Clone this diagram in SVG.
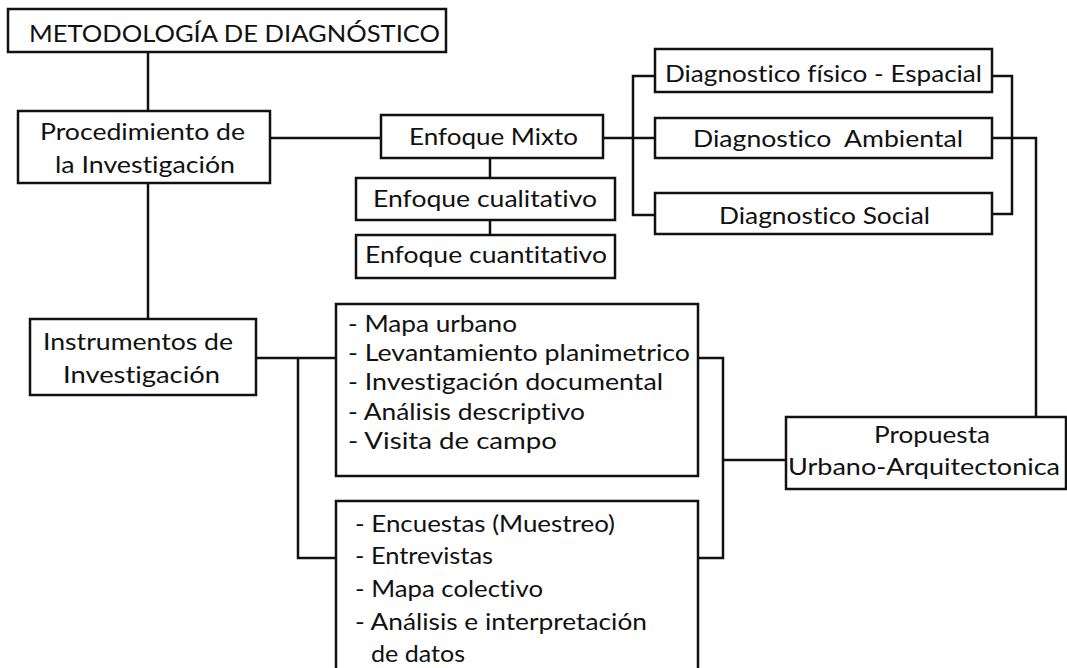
<svg xmlns="http://www.w3.org/2000/svg" width="1067" height="668" viewBox="0 0 1067 668">
<style>
.box{fill:#fff;stroke:#111;stroke-width:2.5}
.c{fill:none;stroke:#111;stroke-width:2.5}
text{font-family:Lato,"Open Sans",sans-serif;font-size:24px;fill:#111;white-space:pre;font-variant-ligatures:none;font-feature-settings:"liga" 0,"dlig" 0}
</style>
<rect width="1067" height="668" fill="#fff"/>
<g id="connectors">
<path class="c" d="M148,52V111"/>
<path class="c" d="M270,138H381"/>
<path class="c" d="M148,183V319"/>
<path class="c" d="M490,158V178"/>
<path class="c" d="M490,220V235"/>
<path class="c" d="M603,138H655"/>
<path class="c" d="M655,76H633V215H655"/>
<path class="c" d="M992,76H1012V214H992"/>
<path class="c" d="M992,138H1036V417"/>
<path class="c" d="M256,358H336"/>
<path class="c" d="M298,358V558H336"/>
<path class="c" d="M698,358H723V558H698"/>
<path class="c" d="M723,460H786"/>
</g>
<g id="title">
<rect class="box" x="8" y="9" width="438" height="43"/>
<text x="29" y="42" textLength="411" lengthAdjust="spacingAndGlyphs">METODOLOGÍA DE DIAGNÓSTICO</text>
</g>
<g id="procedimiento">
<rect class="box" x="18" y="111" width="252" height="72"/>
<text x="40" y="140" textLength="205" lengthAdjust="spacingAndGlyphs">Procedimiento de</text>
<text x="55" y="173" textLength="180" lengthAdjust="spacingAndGlyphs">la Investigación</text>
</g>
<g id="enfoque-mixto">
<rect class="box" x="381" y="115" width="222" height="43"/>
<text x="409" y="145" textLength="169" lengthAdjust="spacingAndGlyphs">Enfoque Mixto</text>
</g>
<g id="enfoque-cualitativo">
<rect class="box" x="356" y="178" width="259" height="42"/>
<text x="373" y="207" textLength="224" lengthAdjust="spacingAndGlyphs">Enfoque cualitativo</text>
</g>
<g id="enfoque-cuantitativo">
<rect class="box" x="356" y="235" width="259" height="43"/>
<text x="365" y="263" textLength="242" lengthAdjust="spacingAndGlyphs">Enfoque cuantitativo</text>
</g>
<g id="diag-fisico">
<rect class="box" x="655" y="49" width="337" height="43"/>
<text x="665" y="82" textLength="317" lengthAdjust="spacingAndGlyphs">Diagnostico físico - Espacial</text>
</g>
<g id="diag-ambiental">
<rect class="box" x="655" y="118" width="337" height="40"/>
<text x="693" y="147" textLength="270" lengthAdjust="spacingAndGlyphs">Diagnostico  Ambiental</text>
</g>
<g id="diag-social">
<rect class="box" x="655" y="193" width="337" height="41"/>
<text x="719" y="224" textLength="211" lengthAdjust="spacingAndGlyphs">Diagnostico Social</text>
</g>
<g id="instrumentos">
<rect class="box" x="30" y="319" width="226" height="76"/>
<text x="43" y="350" textLength="190" lengthAdjust="spacingAndGlyphs">Instrumentos de</text>
<text x="63" y="383" textLength="157" lengthAdjust="spacingAndGlyphs">Investigación</text>
</g>
<g id="lista-1">
<rect class="box" x="336" y="304" width="362" height="172"/>
<text x="348" y="332" textLength="169" lengthAdjust="spacingAndGlyphs">- Mapa urbano</text>
<text x="348" y="361" textLength="342" lengthAdjust="spacingAndGlyphs">- Levantamiento planimetrico</text>
<text x="348" y="390" textLength="315" lengthAdjust="spacingAndGlyphs">- Investigación documental</text>
<text x="348" y="420" textLength="237" lengthAdjust="spacingAndGlyphs">- Análisis descriptivo</text>
<text x="348" y="449" textLength="209" lengthAdjust="spacingAndGlyphs">- Visita de campo</text>
</g>
<g id="lista-2">
<rect class="box" x="336" y="501" width="362" height="200"/>
<text x="355" y="532" textLength="260" lengthAdjust="spacingAndGlyphs">- Encuestas (Muestreo)</text>
<text x="355" y="564" textLength="138" lengthAdjust="spacingAndGlyphs">- Entrevistas</text>
<text x="355" y="597" textLength="188" lengthAdjust="spacingAndGlyphs">- Mapa colectivo</text>
<text x="355" y="630" textLength="292" lengthAdjust="spacingAndGlyphs">- Análisis e interpretación</text>
<text x="371" y="662" textLength="94" lengthAdjust="spacingAndGlyphs">de datos</text>
</g>
<g id="propuesta">
<rect class="box" x="786" y="417" width="280" height="72"/>
<text x="874" y="443" textLength="116" lengthAdjust="spacingAndGlyphs">Propuesta</text>
<text x="788" y="475" textLength="272" lengthAdjust="spacingAndGlyphs">Urbano-Arquitectonica</text>
</g>
</svg>
